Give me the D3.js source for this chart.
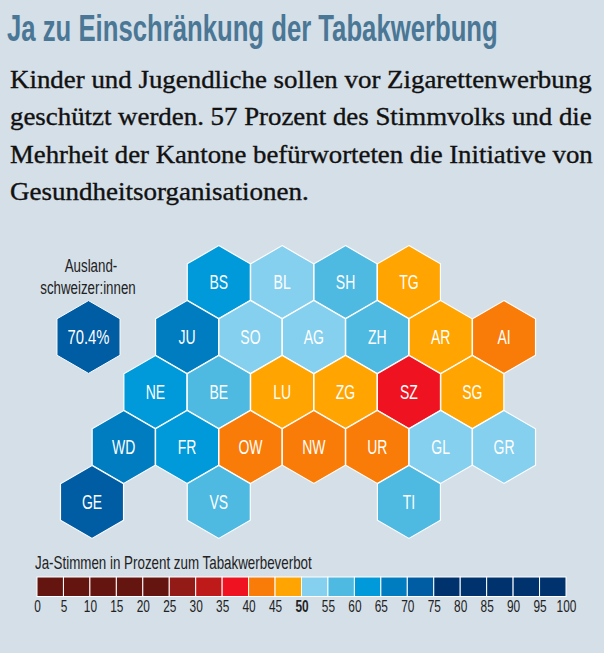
<!DOCTYPE html>
<html>
<head>
<meta charset="utf-8">
<script src="https://cdn.jsdelivr.net/npm/d3@7"></script>
<style>
  html, body { margin: 0; padding: 0; background: #d5dfe8; }
  svg { display: block; }
</style>
</head>
<body>
<script>
'use strict'

let width = 604
let height = 653

let titleText = "Ja zu Einschränkung der Tabakwerbung"
let introLines = [
  "Kinder und Jugendliche sollen vor Zigarettenwerbung",
  "geschützt werden. 57 Prozent des Stimmvolks und die",
  "Mehrheit der Kantone befürworteten die Initiative von",
  "Gesundheitsorganisationen."
]

// canton tiles (values are estimates inside the colour bin)
let cantons = ["BS","BL","SH","TG","JU","SO","AG","ZH","AR","AI","NE","BE","LU","ZG","SZ","SG","WD","FR","OW","NW","UR","GL","GR","GE","VS","TI"]
let yesShare = [63,53,57,48,67,53,54,58,47,43,63,58,48,47,38,48,67,63,43,43,43,53,53,72,57,57]
let tileRow  = [0,0,0,0,1,1,1,1,1,1,2,2,2,2,2,2,3,3,3,3,3,3,3,4,4,4]
let tileCol  = [2,3,4,5,1.5,2.5,3.5,4.5,5.5,6.5,1,2,3,4,5,6,0.5,1.5,2.5,3.5,4.5,5.5,6.5,0,2,5]

let abroadLabel = ["Ausland-", "schweizer:innen"]
let abroadValue = 70.4

let legendTitle = "Ja-Stimmen in Prozent zum Tabakwerbeverbot"
let legendTicks = d3.range(0, 101, 5)
let binEdges = [25,30,35,40,45,50,55,60,65,70,75]
let binColors = ["#64150f","#921a17","#bf1a1a","#ef1220","#f97b08","#ffa400","#85cfef","#4eb9e1","#0099d9","#007cc0","#005ca3","#00336e"]

let color = d3.scaleThreshold().domain(binEdges).range(binColors)

let xTile = d3.scaleLinear().domain([0, 6.5]).range([92, 504])
let yTile = d3.scaleLinear().domain([0, 4]).range([282, 502])
let hexR = 36.4

let narrowFont = "'Liberation Sans', sans-serif"
let narrow = 0.7

function hexPath(cx, cy, r) {
  let pts = d3.range(6).map(i => {
    let a = Math.PI / 3 * i
    return [cx + r * Math.sin(a), cy - r * Math.cos(a)]
  })
  return d3.line()(pts) + "Z"
}

// squeeze a text around its x position, no condensed font is installed
function squeeze(x, y, sx) {
  return "translate(" + x + "," + y + ") scale(" + sx + ",1)"
}

// squeeze a start-anchored text so it takes the given width
function fitWidth(node, x, y, w) {
  let natural = node.getComputedTextLength()
  d3.select(node).attr("transform", squeeze(x, y, w / natural))
}

let svg = d3.select("body").append("svg")
  .attr("width", width)
  .attr("height", height)

svg.append("rect")
  .attr("width", width)
  .attr("height", height)
  .attr("fill", "#d5dfe8")

// header
svg.append("text")
  .attr("fill", "#4a7795")
  .attr("font-family", narrowFont)
  .attr("font-weight", "bold")
  .attr("font-size", 37)
  .text(titleText)
  .each(function() { fitWidth(this, 7, 41, 491) })

let introWidths = [582, 582, 583, 299]
svg.selectAll(".intro")
  .data(introLines)
  .enter()
  .append("text")
  .attr("class", "intro")
  .attr("fill", "#111")
  .attr("stroke", "#111")
  .attr("stroke-width", 0.35)
  .attr("font-family", "'Liberation Serif', serif")
  .attr("font-size", 25)
  .text(d => d)
  .each(function(d, i) { fitWidth(this, 10, 87.5 + i * 37.5, introWidths[i]) })

// tiles
svg.selectAll(".tile")
  .data(cantons)
  .enter()
  .append("path")
  .attr("class", "tile")
  .attr("d", (d, i) => hexPath(xTile(tileCol[i]), yTile(tileRow[i]), hexR))
  .attr("fill", (d, i) => color(yesShare[i]))
  .attr("stroke", "#fff")
  .attr("stroke-width", 1.2)

svg.selectAll(".tileLabel")
  .data(cantons)
  .enter()
  .append("text")
  .attr("class", "tileLabel")
  .attr("transform", (d, i) => squeeze(xTile(tileCol[i]), yTile(tileRow[i]) + 7, narrow))
  .attr("text-anchor", "middle")
  .attr("fill", "#fff")
  .attr("font-family", narrowFont)
  .attr("font-size", 20)
  .text(d => d)

// abroad voters
svg.append("path")
  .attr("d", hexPath(88.5, 337, hexR))
  .attr("fill", color(abroadValue))
  .attr("stroke", "#fff")
  .attr("stroke-width", 1)

svg.append("text")
  .attr("transform", squeeze(88.5, 344, 0.74))
  .attr("text-anchor", "middle")
  .attr("fill", "#fff")
  .attr("font-family", narrowFont)
  .attr("font-size", 20)
  .text(abroadValue.toFixed(1) + "%")

svg.selectAll(".abroadLabel")
  .data(abroadLabel)
  .enter()
  .append("text")
  .attr("class", "abroadLabel")
  .attr("transform", (d, i) => squeeze(i == 0 ? 91 : 88, 272 + i * 22, 0.72))
  .attr("text-anchor", "middle")
  .attr("fill", "#222")
  .attr("font-family", narrowFont)
  .attr("font-size", 18.5)
  .text(d => d)

// legend
let xLegend = d3.scaleLinear().domain([0, 100]).range([37, 566])
let legendTop = 577
let legendH = 19.5

svg.append("text")
  .attr("fill", "#222")
  .attr("font-family", narrowFont)
  .attr("font-size", 18.5)
  .text(legendTitle)
  .each(function() { fitWidth(this, 35, 569, 277) })

svg.selectAll(".bin")
  .data(legendTicks.slice(0, -1))
  .enter()
  .append("rect")
  .attr("class", "bin")
  .attr("x", d => xLegend(d))
  .attr("y", legendTop)
  .attr("width", d => xLegend(d + 5) - xLegend(d))
  .attr("height", legendH)
  .attr("fill", d => color(d))
  .attr("stroke", "#fff")
  .attr("stroke-width", 1)

let axis = svg.append("g")
  .attr("transform", "translate(0," + (legendTop + legendH) + ")")
  .call(d3.axisBottom(xLegend).tickValues(legendTicks).tickSize(0).tickPadding(4))

axis.select(".domain").remove()
axis.selectAll("text")
  .attr("fill", "#222")
  .attr("font-family", narrowFont)
  .attr("font-size", 16.5)
  .attr("font-weight", d => d == 50 ? "bold" : "normal")
  .attr("transform", "scale(0.72,1)")
</script>
</body>
</html>
